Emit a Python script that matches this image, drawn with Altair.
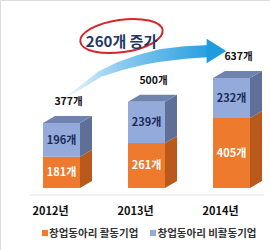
import altair as alt
import pandas as pd

# ---- data ----
years = ["2012년", "2013년", "2014년"]
active = [181, 261, 405]        # 창업동아리 활동기업
inactive = [196, 239, 232]      # 창업동아리 비활동기업
totals = [377, 500, 637]
series_names = ["창업동아리 활동기업", "창업동아리 비활동기업"]
increase_label = "260개 증가"

# ---- layout (data units) ----
W, H = 270, 250
PX_PER_SLOT = 85.0
X0_PX = 61.5
PX_PER_VAL = 0.1727
BASE_PX = 188.0
x_dom = [-X0_PX / PX_PER_SLOT, (W - X0_PX) / PX_PER_SLOT]
y_dom = [-(H - BASE_PX) / PX_PER_VAL, BASE_PX / PX_PER_VAL]
HALF = 18.5 / PX_PER_SLOT       # half front width
DX = 12.0 / PX_PER_SLOT         # depth in x
DY = 7.0 / PX_PER_VAL           # depth in y

def sx(px):
    return (px - X0_PX) / PX_PER_SLOT

def sy(px):
    return (BASE_PX - px) / PX_PER_VAL

FONT = "Noto Sans CJK KR"
ORANGE, ORANGE_SIDE = "#EE7A2E", "#B95A1C"
BLUE, BLUE_SIDE, TOP = "#93AADB", "#5E6F98", "#7083AE"
COLORS = {"a": ORANGE, "i": BLUE}
SIDES = {"a": ORANGE_SIDE, "i": BLUE_SIDE}
LBL = {"a": "#FFFFFF", "i": "#1B2A5A"}

xs = alt.Scale(domain=x_dom, range=[0, W], nice=False, zero=False)
ys = alt.Scale(domain=y_dom, range=[H, 0], nice=False, zero=False)

def X(f):
    return alt.X(f, type="quantitative", scale=xs, axis=None)

def Y(f):
    return alt.Y(f, type="quantitative", scale=ys, axis=None, stack=None)

front_rows, side_rows, top_rows, label_rows = [], [], [], []
for i, y in enumerate(years):
    segs = [(0, active[i], "a"), (active[i], totals[i], "i")]
    for lo, hi, k in segs:
        front_rows.append(dict(x=i - HALF, x2=i + HALF, y=lo, y2=hi, c=COLORS[k]))
        g = f"{y}-{k}"
        side_rows.append(dict(g=g, c=SIDES[k], x=i + HALF, y=lo, y2=hi))
        side_rows.append(dict(g=g, c=SIDES[k], x=i + HALF + DX, y=lo + DY, y2=hi + DY))
        label_rows.append(dict(x=i, y=(lo + hi) / 2, t=f"{hi - lo}개", c=LBL[k]))
    t = totals[i]
    top_rows.append(dict(g=y, y=t, x=i - HALF, x2=i + HALF))
    top_rows.append(dict(g=y, y=t + DY, x=i - HALF + DX, x2=i + HALF + DX))

front_df = pd.DataFrame(front_rows)
side_df = pd.DataFrame(side_rows)
top_df = pd.DataFrame(top_rows)
label_df = pd.DataFrame(label_rows)

front = alt.Chart(front_df).mark_bar().encode(
    x=X("x"), x2="x2", y=Y("y"), y2="y2",
    fill=alt.Fill("c:N", scale=None))

side = alt.Chart(side_df).mark_area().encode(
    x=X("x"), y=Y("y"), y2="y2",
    fill=alt.Fill("c:N", scale=None), detail="g:N")

top = alt.Chart(top_df).mark_area(orient="horizontal", color=TOP).encode(
    y=Y("y"), x=X("x"), x2="x2", detail="g:N")

seg_labels = alt.Chart(label_df).mark_text(
    font=FONT, fontWeight="bold", fontSize=11, dy=1).encode(
    x=X("x"), y=Y("y"), text="t:N", fill=alt.Fill("c:N", scale=None))

tot_df = pd.DataFrame(dict(x=list(range(3)), y=totals, t=[f"{v}개" for v in totals]))
tot_labels = alt.Chart(tot_df).mark_text(
    font=FONT, fontWeight="bold", fontSize=10.5, color="#111111", dx=7, dy=-21).encode(
    x=X("x"), y=Y("y"), text="t:N")

year_df = pd.DataFrame(dict(x=list(range(3)), t=years, y=[sy(212)] * 3))
year_labels = alt.Chart(year_df).mark_text(
    font=FONT, fontWeight="bold", fontSize=11, color="#111111", dx=-11).encode(
    x=X("x"), y=Y("y"), text="t:N")

base_df = pd.DataFrame(dict(x=[sx(30)], x2=[sx(264)], y=[sy(195)]))
baseline = alt.Chart(base_df).mark_rule(color="#E2E2E2", strokeWidth=1).encode(
    x=X("x"), x2="x2", y=Y("y"))

# legend (drawn)
leg_df = pd.DataFrame(dict(
    xs=[sx(45), sx(153)], xt=[sx(49), sx(157.5)], y=[sy(233)] * 2,
    t=series_names, c=[ORANGE, BLUE]))
leg_sq = alt.Chart(leg_df).mark_square(size=38, opacity=1).encode(
    x=X("xs"), y=Y("y"), fill=alt.Fill("c:N", scale=None))
leg_tx = alt.Chart(leg_df).mark_text(
    font=FONT, fontSize=10.5, fontWeight="bold", color="#333333", align="left", dy=0.5).encode(
    x=X("xt"), y=Y("y"), text="t:N")

# growth arrow
arrow_px = [(64, 98, 0.8), (80, 88, 3), (100, 74, 6), (120, 66, 9), (140, 60, 11),
            (160, 55.5, 12.5), (185, 52.5, 12.5), (210, 51, 12)]
arrow_df = pd.DataFrame(dict(
    x=[sx(p[0]) for p in arrow_px], y=[sy(p[1]) for p in arrow_px],
    w=[p[2] for p in arrow_px], o=list(range(len(arrow_px)))))
arrow = alt.Chart(arrow_df).mark_trail(
    color=alt.Gradient(gradient="linear", x1=0, y1=0, x2=1, y2=0,
                       stops=[alt.GradientStop(color="#F2F9FD", offset=0),
                              alt.GradientStop(color="#8FCDEF", offset=0.35),
                              alt.GradientStop(color="#1F9BE0", offset=1)])).encode(
    x=X("x"), y=Y("y"), size=alt.Size("w:Q", scale=None, legend=None), order="o:Q")
head_df = pd.DataFrame(dict(x=[sx(214)], y=[sy(51)]))
head = alt.Chart(head_df).mark_point(
    shape="M -0.6 -1 L 1 0 L -0.6 1 Z", filled=True, fill="#1F9BE0", opacity=1, size=600,
    strokeWidth=0).encode(x=X("x"), y=Y("y"))

# ellipse + text
ell_df = pd.DataFrame(dict(x=[sx(121.5)], y=[sy(36)]))
ell = alt.Chart(ell_df).mark_point(
    shape="M -1 0 A 1 0.39 0 1 0 1 0 A 1 0.39 0 1 0 -1 0 Z",
    filled=False, stroke="#D7262B", strokeWidth=2, size=6900, angle=352, opacity=1).encode(
    x=X("x"), y=Y("y"))
ell_txt_df = pd.DataFrame(dict(x=[sx(121.5)], y=[sy(41.5)], t=[increase_label]))
ell_txt = alt.Chart(ell_txt_df).mark_text(
    font=FONT, fontWeight="bold", fontSize=15, color="#1F3864").encode(
    x=X("x"), y=Y("y"), text="t:N")

chart = alt.layer(
    baseline, arrow, head, ell, ell_txt, side, top, front, seg_labels, tot_labels,
    year_labels, leg_sq, leg_tx
).properties(
    width=W, height=H, autosize="none", padding=0
).configure_view(stroke=None).configure(background="white")

chart.save("out.html", embed_options={"renderer": "svg", "actions": False})
